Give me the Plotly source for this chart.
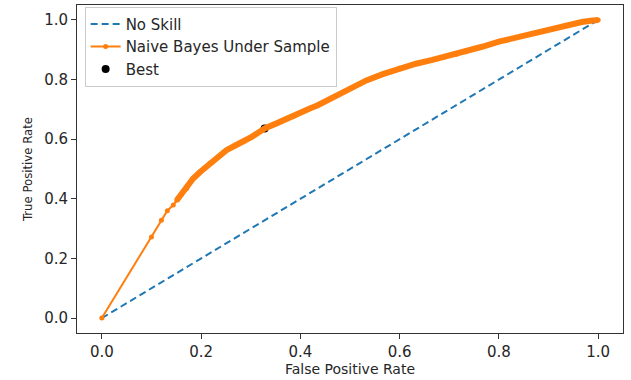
import plotly.graph_objects as go

# No-skill diagonal
skill_x = [0.0, 1.0]
skill_y = [0.0, 1.0]

# ROC curve (Naive Bayes Under Sample)
fpr = [0.0, 0.100, 0.120, 0.132, 0.144, 0.151, 0.160, 0.171, 0.184, 0.198,
       0.218, 0.235, 0.251, 0.268, 0.285, 0.302, 0.318, 0.328, 0.352, 0.385,
       0.419, 0.435, 0.465, 0.500, 0.533, 0.566, 0.600, 0.633, 0.666, 0.690,
       0.713, 0.733, 0.766, 0.800, 0.834, 0.868, 0.900, 0.934, 0.967, 0.985,
       1.0]
tpr = [0.0, 0.272, 0.328, 0.360, 0.379, 0.395, 0.415, 0.435, 0.468, 0.490,
       0.519, 0.542, 0.563, 0.578, 0.591, 0.608, 0.625, 0.636, 0.653, 0.675,
       0.703, 0.714, 0.740, 0.770, 0.797, 0.818, 0.838, 0.853, 0.866, 0.876,
       0.884, 0.893, 0.910, 0.927, 0.941, 0.955, 0.968, 0.982, 0.993, 0.997,
       1.0]

# Best threshold point
best_x = [0.328]
best_y = [0.636]

tick_vals = [0.0, 0.2, 0.4, 0.6, 0.8, 1.0]
tick_text = ["0.0", "0.2", "0.4", "0.6", "0.8", "1.0"]

BLUE = "#1f77b4"
ORANGE = "#ff7f0e"
FONT = "DejaVu Sans"

fig = go.Figure()

fig.add_trace(go.Scatter(
    x=skill_x, y=skill_y, mode="lines", name="No Skill",
    line=dict(color=BLUE, width=2, dash="7px,4px"), legendrank=1))

fig.add_trace(go.Scatter(
    x=best_x, y=best_y, mode="markers", name="Best",
    marker=dict(color="black", size=8), legendrank=3))

# dense part of the curve drawn as a thick band (many overlapping markers)
dense_start = 5
fig.add_trace(go.Scatter(
    x=fpr[dense_start:], y=tpr[dense_start:], mode="lines", showlegend=False,
    line=dict(color=ORANGE, width=6), hoverinfo="skip"))

fig.add_trace(go.Scatter(
    x=fpr, y=tpr, mode="lines+markers", name="Naive Bayes Under Sample",
    line=dict(color=ORANGE, width=2), marker=dict(color=ORANGE, size=5),
    legendrank=2))

axis_common = dict(
    range=[-0.05, 1.05], tickvals=tick_vals, ticktext=tick_text,
    showgrid=False, zeroline=False, showline=True, mirror=True,
    linecolor="#333333", linewidth=1, ticks="outside", ticklen=5,
    tickcolor="#333333", tickwidth=1,
    tickfont=dict(family=FONT, size=15, color="#262626"))

fig.update_layout(
    width=631, height=380,
    margin=dict(l=77, r=8, t=5, b=47, autoexpand=False),
    paper_bgcolor="white", plot_bgcolor="white",
    font=dict(family=FONT, color="#262626"),
    xaxis=dict(**axis_common,
               title=dict(text="False Positive Rate", standoff=4,
                          font=dict(family=FONT, size=14, color="#262626"))),
    yaxis=dict(**axis_common,
               title=dict(text="True Positive Rate", standoff=8,
                          font=dict(family="DejaVu Sans Condensed", size=13,
                                    color="#262626"))),
    legend=dict(x=0.014, y=0.995, xanchor="left", yanchor="top",
                bgcolor="rgba(255,255,255,0.8)", bordercolor="#cccccc",
                borderwidth=1, font=dict(family=FONT, size=15, color="#262626"),
                tracegroupgap=0, itemwidth=30),
    showlegend=True,
)

fig.write_html("out.html")
